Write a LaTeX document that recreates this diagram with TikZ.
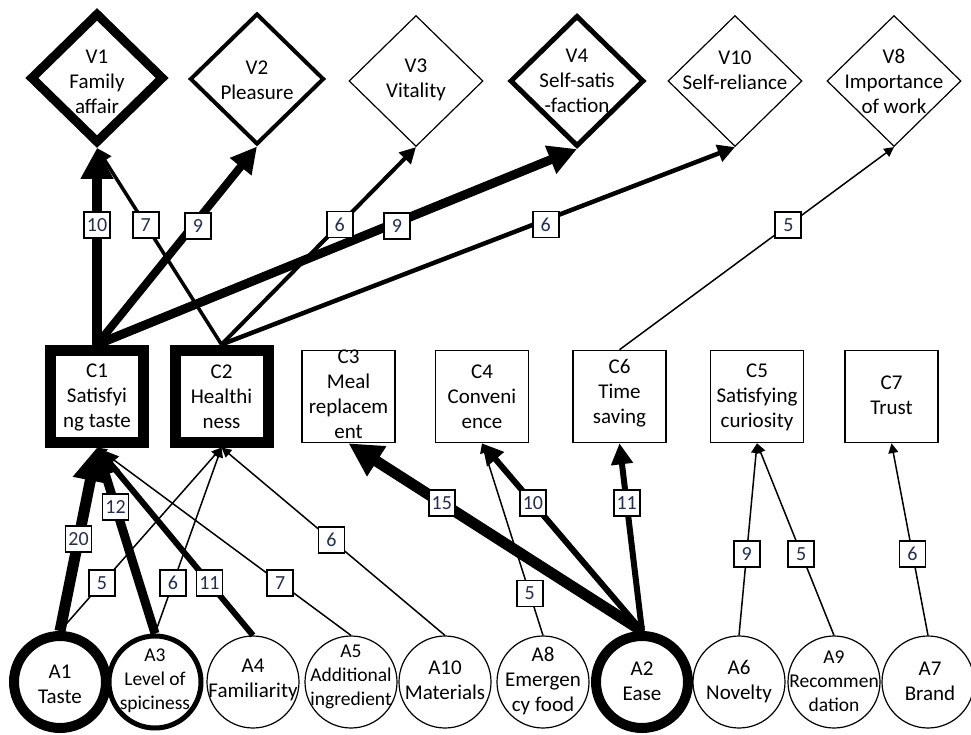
\documentclass[tikz,border=0pt]{standalone}
\usepackage{fontspec}
\setmainfont{Carlito}
\usetikzlibrary{shapes.geometric,arrows.meta}
\definecolor{labc}{RGB}{35,45,80}
\begin{document}
\begin{tikzpicture}[x=1pt,y=-1pt,
  dia/.style={diamond, draw, fill=white, inner sep=0pt, minimum width=134pt, minimum height=131pt},
  sq/.style={rectangle, draw, fill=white, inner sep=0pt, minimum width=93pt, minimum height=92pt},
  circ/.style={circle, draw, fill=white, inner sep=0pt, minimum size=92pt},
  txt/.style={align=center, font=\fontsize{21}{25}\selectfont, inner sep=0pt},
  stxt/.style={align=center, font=\fontsize{19.5}{24}\selectfont, inner sep=0pt},
  lab/.style={draw, fill=white, line width=1.8pt, minimum size=26pt, inner sep=0pt, font=\fontsize{20}{20}\selectfont, text=labc},
  conn/.style={line width=#1, -{Triangle[length=6pt 2.5, width=6pt 2.5]}},
]
\useasboundingbox (0,0) rectangle (971,735);

% values (diamonds)
\node[dia, line width=9pt] (V1) at (97,78) {};
\node[dia, line width=4pt] (V2) at (257,79) {};
\node[dia, line width=1.2pt] (V3) at (416,81) {};
\node[dia, line width=5pt] (V4) at (577,81) {};
\node[dia, line width=1.2pt] (V10) at (735,81) {};
\node[dia, line width=1.2pt] (V8) at (894,81) {};

% consequences (squares)
\node[sq, line width=11pt] (C1) at (97,396) {};
\node[sq, line width=11pt] (C2) at (221.5,396) {};
\node[sq, line width=1.6pt] (C3) at (348.5,396.5) {};
\node[sq, line width=1.6pt] (C4) at (482,396.5) {};
\node[sq, line width=1.6pt] (C6) at (619.5,396.5) {};
\node[sq, line width=1.6pt] (C5) at (757,396.5) {};
\node[sq, line width=1.6pt] (C7) at (891.5,396.5) {};

% attributes (circles)
\node[circ, line width=10pt] (A1) at (60,682) {};
\node[circ, line width=5pt] (A3) at (155,682) {};
\node[circ, line width=1.2pt] (A4) at (253,682) {};
\node[circ, line width=1.2pt] (A5) at (351,682) {};
\node[circ, line width=1.2pt] (A10) at (445,682) {};
\node[circ, line width=1.2pt] (A8) at (543,682) {};
\node[circ, line width=10pt] (A2) at (642,682) {};
\node[circ, line width=1.2pt] (A6) at (739,682) {};
\node[circ, line width=1.2pt] (A9) at (834,682) {};
\node[circ, line width=1.2pt] (A7) at (928,682) {};

% connectors: consequences -> values
\draw[conn=10pt] (C1.north) -- (V1.south);
\draw[conn=3.5pt] (C2.north) -- (V1.south);
\draw[conn=8pt] (C1.north) -- (V2.south);
\draw[conn=4pt] (C2.north) -- (V3.south);
\draw[conn=9pt] (C1.north) -- (V4.south);
\draw[conn=4.5pt] (C2.north) -- (V10.south);
\draw[conn=1.5pt] (C6.north) -- (V8.south);

% connectors: attributes -> consequences
\draw[conn=11pt] (A1.north) -- (C1.south);
\draw[conn=9pt] (A3.north) -- (C1.south);
\draw[conn=1.5pt] (A1.north) -- (C2.south);
\draw[conn=1.5pt] (A3.north) -- (C2.south);
\draw[conn=6pt] (A4.north) -- (C1.south);
\draw[conn=1.5pt] (A5.north) -- (C1.south);
\draw[conn=1.5pt] (A10.north) -- (C2.south);
\draw[conn=11pt] (A2.north) -- (C3.south);
\draw[conn=6pt] (A2.north) -- (C4.south);
\draw[conn=1.5pt] (A8.north) -- (C4.south);
\draw[conn=6pt] (A2.north) -- (C6.south);
\draw[conn=1.5pt] (A6.north) -- (C5.south);
\draw[conn=1.5pt] (A9.north) -- (C5.south);
\draw[conn=1.5pt] (A7.north) -- (C7.south);

% labels
\path (C1.north) -- (V1.south) node[lab,pos=0.608] (l1) {10};
\path (C2.north) -- (V1.south) node[lab,pos=0.608] (l2) {7};
\path (C1.north) -- (V2.south) node[lab,pos=0.60,xshift=5pt] (l3) {9};
\path (C2.north) -- (V3.south) node[lab,pos=0.608] (l4) {6};
\path (C1.north) -- (V4.south) node[lab,pos=0.608,xshift=8pt] (l5) {9};
\path (C2.north) -- (V10.south) node[lab,pos=0.608,xshift=12pt] (l6) {6};
\path (C6.north) -- (V8.south) node[lab,pos=0.615] (l7) {5};
\path (A1.north) -- (C1.south) node[lab,pos=0.5] (l8) {20};
\path (A3.north) -- (C1.south) node[lab,pos=0.68] (l9) {12};
\path (A1.north) -- (C2.south) node[lab,pos=0.26] (l10) {5};
\path (A3.north) -- (C2.south) node[lab,pos=0.27] (l11) {6};
\path (A4.north) -- (C1.south) node[lab,pos=0.279] (l12) {11};
\path (A5.north) -- (C1.south) node[lab,pos=0.279] (l13) {7};
\path (A10.north) -- (C2.south) node[lab,pos=0.508] (l14) {6};
\path (A2.north) -- (C3.south) node[lab,pos=0.682] (l15) {15};
\path (A2.north) -- (C4.south) node[lab,pos=0.682] (l16) {10};
\path (A8.north) -- (C4.south) node[lab,pos=0.218] (l17) {5};
\path (A2.north) -- (C6.south) node[lab,pos=0.682] (l18) {11};
\path (A6.north) -- (C5.south) node[lab,pos=0.425] (l19) {9};
\path (A9.north) -- (C5.south) node[lab,pos=0.425] (l20) {5};
\path (A7.north) -- (C7.south) node[lab,pos=0.425] (l21) {6};

% texts
\node[txt] (V1t) at (97,82) {V1\\Family\\affair};
\node[txt] (V2t) at (257,80) {V2\\Pleasure};
\node[txt] (V3t) at (416,80) {V3\\Vitality};
\node[txt] (V4t) at (577,81) {V4\\Self-satis\\-faction};
\node[txt] (V10t) at (735,70) {V10\\Self-reliance};
\node[txt] (V8t) at (894,81) {V8\\Importance\\of work};

\node[txt] (C1t) at (97,397) {C1\\Satisfyi\\ng taste};
\node[txt] (C2t) at (221.5,397) {C2\\Healthi\\ness};
\node[txt] (C3t) at (348.5,394) {C3\\Meal\\replacem\\ent};
\node[txt] (C4t) at (482,397) {C4\\Conveni\\ence};
\node[txt] (C6t) at (619.5,393) {C6\\Time\\saving};
\node[txt] (C5t) at (757,397) {C5\\Satisfying\\curiosity};
\node[txt] (C7t) at (891.5,395) {C7\\Trust};

\node[txt] (A1t) at (60,684) {A1\\Taste};
\node[stxt] (A3t) at (155,681) {A3\\Level of\\spiciness};
\node[txt] (A4t) at (253,680) {A4\\Familiarity};
\node[stxt] (A5t) at (351,677) {A5\\Additional\\ingredient};
\node[txt] (A10t) at (445,680) {A10\\Materials};
\node[txt] (A8t) at (543,681) {A8\\Emergen\\cy food};
\node[txt] (A2t) at (642,681) {A2\\Ease};
\node[txt] (A6t) at (739,682) {A6\\Novelty};
\node[stxt] (A9t) at (834,681) {A9\\Recommen\\dation};
\node[txt] (A7t) at (930,681) {A7\\Brand};
\end{tikzpicture}
\end{document}
